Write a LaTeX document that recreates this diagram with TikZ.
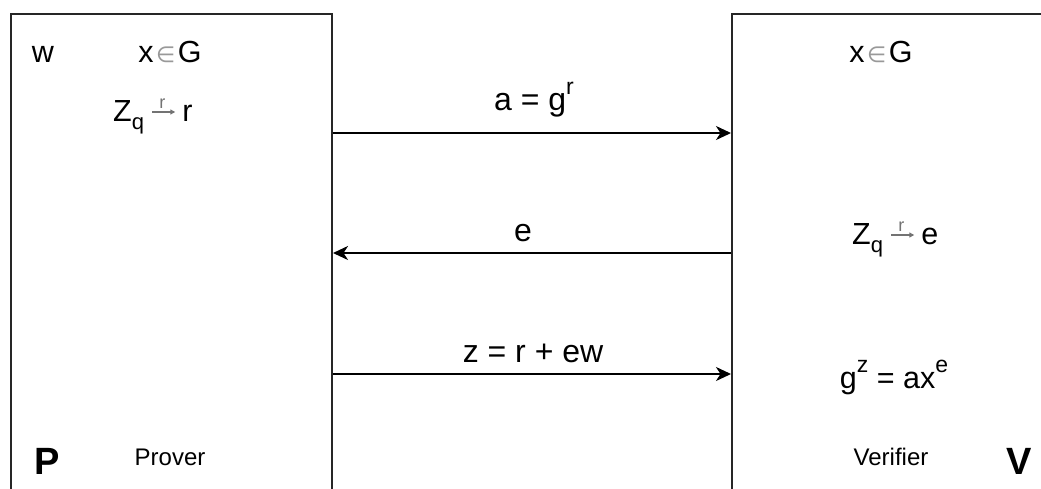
\documentclass[tikz,border=0pt]{standalone}
\usepackage{fontspec}
\setmainfont{Liberation Sans}
\newfontfamily\dejavu{DejaVu Sans}
\usetikzlibrary{arrows.meta}
\newcommand\sbx[1]{\raisebox{-0.28em}{\fontsize{22}{22}\selectfont #1}}
\newcommand\spx[1]{\raisebox{0.5em}{\fontsize{23}{23}\selectfont #1}}
\newcommand\elem{\hspace{2.5pt}{\dejavu\fontsize{22}{22}\selectfont\color{black!40}∈}\hspace{2.5pt}}
\begin{document}
\begin{tikzpicture}[x=1pt,y=-1pt,
  party/.style={draw=black!85, line width=2pt, anchor=north west, inner sep=0},
  msg/.style={draw=black, line width=2pt, -{Stealth[length=15pt,width=14pt,inset=4.5pt]}},
  samp/.style={draw=black!55, line width=1.3pt, -{Triangle[length=5pt,width=5pt]}},
  lbl/.style={anchor=base, inner sep=0, text=black, font=\fontsize{30.5}{36}\selectfont},
  sr/.style={anchor=base, inner sep=0, text=black!55, font=\fontsize{18}{18}\selectfont},
  msgl/.style={lbl, font=\fontsize{32}{38}\selectfont},
  small/.style={lbl, font=\fontsize{24}{28}\selectfont},
  big/.style={lbl, font=\fontsize{38}{44}\selectfont\bfseries}]
\useasboundingbox (0,0) rectangle (1041,488);
\clip (0,0) rectangle (1041,488);
\node[party, minimum width=321pt, minimum height=500pt] (P) at (10,13) {};
\node[party, minimum width=340pt, minimum height=500pt] (V) at (731,13) {};
\draw[msg] (P.east |- 0,133) -- (V.west |- 0,133);
\draw[msg] (V.west |- 0,253) -- (P.east |- 0,253);
\draw[msg] (P.east |- 0,374) -- (V.west |- 0,374);
\node[lbl] (w) at (43,62) {w};
\node[lbl] (xg1) at (170,62) {x\elem G};
% prover sampling
\node[lbl, anchor=base west] (zq1) at (113,121) {Z\sbx{q}};
\draw[samp] ([shift={(8,-9)}]zq1.base east) -- ++(23,0);
\node[sr] (sr1) at ([shift={(18,-13)}]zq1.base east) {r};
\node[lbl, anchor=base west] (r1) at ([shift={(38,0)}]zq1.base east) {r};
\node[msgl] (m1) at (534,110) {a = g\spx{r}};
\node[msgl] (m2) at (523,241) {e};
\node[msgl] (m3) at (533,362) {z = r + ew};
\node[lbl] (xg2) at (881,62) {x\elem G};
% verifier sampling
\node[lbl, anchor=base west] (zq2) at (852,244) {Z\sbx{q}};
\draw[samp] ([shift={(8,-9)}]zq2.base east) -- ++(23,0);
\node[sr] (sr2) at ([shift={(18,-13)}]zq2.base east) {r};
\node[lbl, anchor=base west] (e2) at ([shift={(38,0)}]zq2.base east) {e};
\node[lbl] (chk) at (894,388) {g\spx{z} = ax\spx{e}};
\node[small] (pr) at (170,465) {Prover};
\node[small] (vf) at (891,465) {Verifier};
\node[big] (Pl) at (47,474) {P};
\node[big] (Vl) at (1019,474) {V};
\end{tikzpicture}
\end{document}
